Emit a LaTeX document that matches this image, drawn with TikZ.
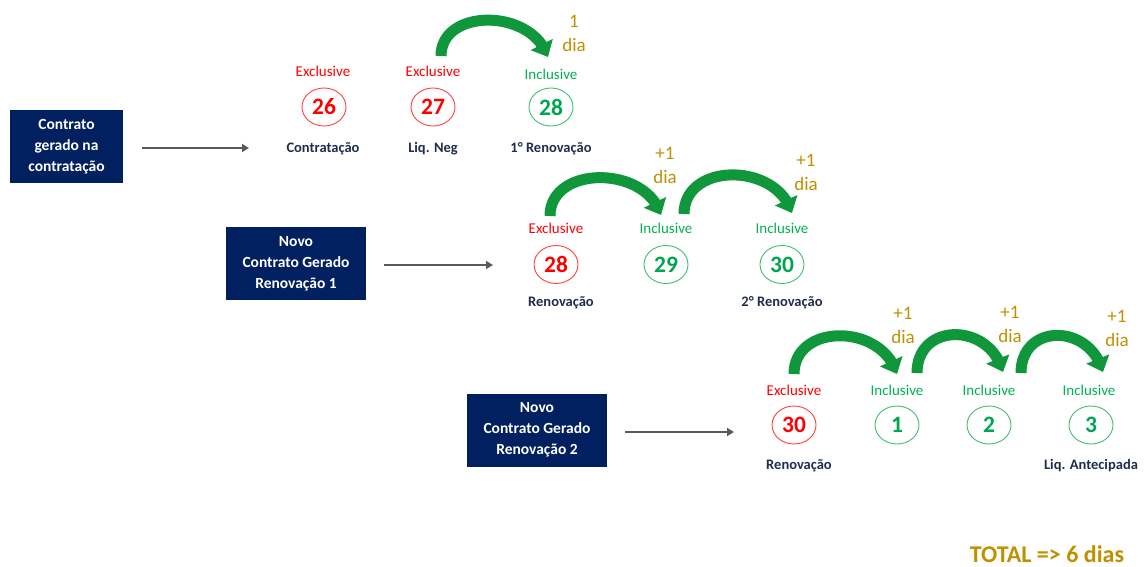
\documentclass[tikz,border=0pt]{standalone}
\usepackage{fontspec}
\setmainfont{Carlito}
\usetikzlibrary{shapes.geometric,arrows.meta,bending}
\definecolor{navy}{HTML}{002060}
\definecolor{txtnavy}{HTML}{1F2D4D}
\definecolor{exred}{HTML}{FF0000}
\definecolor{exredline}{HTML}{FF4040}
\definecolor{ingreen}{HTML}{00B050}
\definecolor{ingreenline}{HTML}{3CBF72}
\definecolor{numgreen}{HTML}{00A550}
\definecolor{gold}{HTML}{BF9000}
\definecolor{arrgreen}{HTML}{11973B}
\definecolor{arrgray}{HTML}{595959}
\tikzset{
  x=1pt,y=-1pt,
  boxnode/.style={fill=navy,text=white,font=\fontsize{15.5}{21}\selectfont\bfseries,align=center,minimum height=73pt,inner sep=2pt},
  exlbl/.style={text=exred,font=\fontsize{15}{18}\selectfont,anchor=base,inner sep=0pt},
  inlbl/.style={text=ingreen,font=\fontsize{15}{18}\selectfont,anchor=base,inner sep=0pt},
  excirc/.style={ellipse,draw=exredline,line width=0.9pt,text=exred,minimum width=44pt,minimum height=38pt,inner sep=0pt,font=\fontsize{23.5}{23.5}\selectfont\bfseries},
  incirc/.style={ellipse,draw=ingreenline,line width=0.9pt,text=numgreen,minimum width=44pt,minimum height=38pt,inner sep=0pt,font=\fontsize{23.5}{23.5}\selectfont\bfseries},
  botlbl/.style={text=txtnavy,font=\fontsize{14.5}{17}\selectfont\bfseries,anchor=base,inner sep=0pt},
  dialbl/.style={text=gold,font=\fontsize{19}{24}\selectfont,align=center,inner sep=0pt},
  grayarr/.style={draw=arrgray,line width=2.4pt,-{Triangle[width=8pt,length=7pt]}},
  curvarr/.style={draw=arrgreen,line width=11pt,-{Triangle[width=24pt,length=14pt,flex]}},
}
\begin{document}
\begin{tikzpicture}
\useasboundingbox (0,0) rectangle (1145,567);

% ---------- Row 1 ----------
\node[boxnode,minimum width=113pt] (b1) at (66.5,146.5) {Contrato\\gerado na\\contratação};
\coordinate (g1s) at (142,148);
\coordinate (g1e) at (249,148);
\draw[grayarr] (g1s) -- (g1e);

\node[exlbl] (l26) at (323,77) {Exclusive};
\node[exlbl] (l27) at (433,77) {Exclusive};
\node[inlbl] (l28a) at (551,80) {Inclusive};
\node[excirc] (n26) at (324,107) {26};
\node[excirc] (n27) at (433,107) {27};
\node[incirc] (n28a) at (551,107) {28};
\node[botlbl] (t26) at (323,153) {Contratação};
\node[botlbl] (t27) at (433,153) {Liq. Neg};
\node[botlbl] (t28a) at (551,152) {1° Renovação};
\node[dialbl] (d1) at (574,33) {1\\dia};
\coordinate (c1s) at (441,56);
\coordinate (c1e) at (548,57);
\draw[curvarr] (c1s) .. controls (441,8) and (532,8) .. (c1e);

% ---------- Row 2 ----------
\node[boxnode,minimum width=140pt] (b2) at (296,263.5) {Novo\\Contrato Gerado\\Renovação 1};
\coordinate (g2s) at (384,265);
\coordinate (g2e) at (493,265);
\draw[grayarr] (g2s) -- (g2e);

\node[exlbl] (l28b) at (556,233) {Exclusive};
\node[inlbl] (l29) at (666,233) {Inclusive};
\node[inlbl] (l30a) at (782,233) {Inclusive};
\node[excirc] (n28b) at (556,264.5) {28};
\node[incirc] (n29) at (666,264.5) {29};
\node[incirc] (n30a) at (782,264.5) {30};
\node[botlbl] (t28b) at (561,306) {Renovação};
\node[botlbl] (t30a) at (782,306) {2° Renovação};
\node[dialbl] (d2) at (665,165) {+1\\dia};
\node[dialbl] (d3) at (806,172) {+1\\dia};
\coordinate (c2s) at (550,216);
\coordinate (c2e) at (661,215);
\draw[curvarr] (c2s) .. controls (550,165) and (646,165) .. (c2e);
\coordinate (c3s) at (684,214);
\coordinate (c3e) at (792,213);
\draw[curvarr] (c3s) .. controls (684,162) and (777,162) .. (c3e);

% ---------- Row 3 ----------
\node[boxnode,minimum width=140pt] (b3) at (537,430) {Novo\\Contrato Gerado\\Renovação 2};
\coordinate (g3s) at (625,432);
\coordinate (g3e) at (734,432);
\draw[grayarr] (g3s) -- (g3e);

\node[exlbl] (l30b) at (794,395) {Exclusive};
\node[inlbl] (l1) at (897,395) {Inclusive};
\node[inlbl] (l2) at (989,395) {Inclusive};
\node[inlbl] (l3) at (1089,395) {Inclusive};
\node[excirc] (n30b) at (794,425) {30};
\node[incirc] (n1) at (897,425) {1};
\node[incirc] (n2) at (989,425) {2};
\node[incirc] (n3) at (1091,425) {3};
\node[botlbl] (t30b) at (799,469) {Renovação};
\node[botlbl] (t3) at (1091,469) {Liq. Antecipada};
\node[dialbl] (d4) at (903,325) {+1\\dia};
\node[dialbl] (d5) at (1010,324) {+1\\dia};
\node[dialbl] (d6) at (1117,328) {+1\\dia};
\coordinate (c4s) at (794,374);
\coordinate (c4e) at (897,374);
\draw[curvarr] (c4s) .. controls (794,323) and (882,323) .. (c4e);
\coordinate (c5s) at (917,373);
\coordinate (c5e) at (1003,372);
\draw[curvarr] (c5s) .. controls (917,322) and (990,322) .. (c5e);
\coordinate (c6s) at (1021,373);
\coordinate (c6e) at (1103,372);
\draw[curvarr] (c6s) .. controls (1021,323) and (1090,323) .. (c6e);

% ---------- Total ----------
\node[text=gold,font=\fontsize{24}{24}\selectfont\bfseries,anchor=base,inner sep=0pt] (tot) at (1047,562) {TOTAL => 6 dias};
\end{tikzpicture}
\end{document}
